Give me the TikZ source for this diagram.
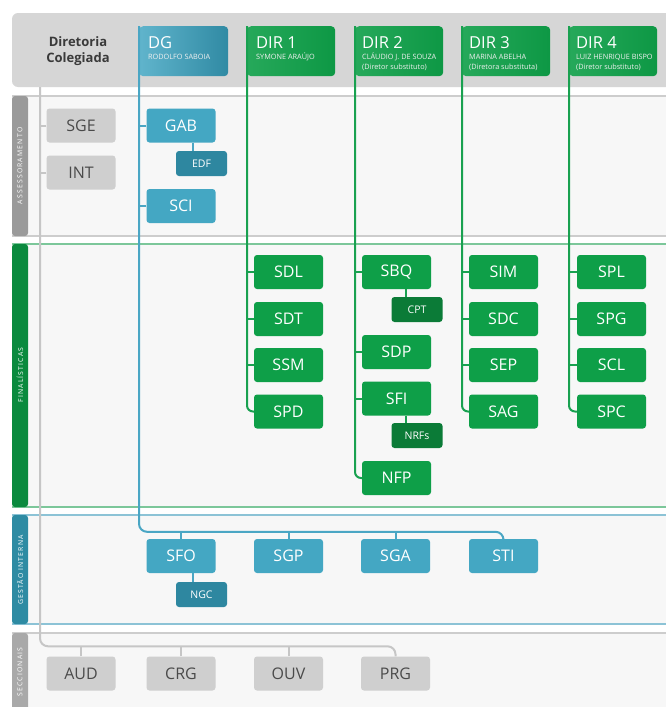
\documentclass[tikz,border=0pt]{standalone}
\usepackage{fontspec}
\setmainfont{Open Sans}
\newfontfamily\sidefont[LetterSpace=18]{Open Sans}
\usetikzlibrary{calc}
\definecolor{headergrey}{HTML}{D6D6D6}
\definecolor{secfill}{HTML}{F7F7F7}
\definecolor{boxgreen}{HTML}{0E9F48}
\definecolor{darkgreen}{HTML}{0B7B37}
\definecolor{boxblue}{HTML}{44A7C3}
\definecolor{darkblue}{HTML}{2E87A0}
\definecolor{boxgrey}{HTML}{CFCFCF}
\definecolor{textgrey}{HTML}{4A4A4A}
\definecolor{greenline}{HTML}{19A150}
\definecolor{blueline}{HTML}{4AA6C4}
\definecolor{greyline}{HTML}{C6C6C6}
\definecolor{secgreenline}{HTML}{7CC79A}
\definecolor{secblueline}{HTML}{8CC3D6}
\definecolor{secgreyline}{HTML}{CDCDCD}
\definecolor{sidegrey}{HTML}{9A9A9A}
\definecolor{sidegreen}{HTML}{0A8A3E}
\definecolor{sideblue}{HTML}{2E8BA3}
\definecolor{hdrtext}{HTML}{3A3A3A}
\tikzset{
  ubox/.style={rounded corners=3pt, minimum width=69pt, minimum height=34pt, inner sep=0pt,
    text=white, font=\fontsize{16}{16}\selectfont},
  gbox/.style={ubox, fill=boxgreen},
  bbox/.style={ubox, fill=boxblue},
  greybox/.style={ubox, fill=boxgrey, text=textgrey},
  sbox/.style={rounded corners=3pt, minimum width=51pt, minimum height=25pt, inner sep=0pt,
    text=white, font=\fontsize{10.5}{10.5}\selectfont},
  sgbox/.style={sbox, fill=darkgreen},
  sbbox/.style={sbox, fill=darkblue},
  flagbox/.style={anchor=north west, minimum height=50pt, inner sep=0pt, rounded corners=4pt},
  dgflag/.style={flagbox, minimum width=89pt, left color=boxblue!85!white, right color=darkblue!90!boxblue},
  dirflag/.style={flagbox, minimum width=88pt, left color=boxgreen!90!white, right color=boxgreen!80!darkgreen},
  hdrtitle/.style={anchor=base west, inner sep=0pt, text=white, font=\fontsize{16.5}{16.5}\selectfont},
  hdrsub/.style={anchor=base west, inner sep=0pt, text=white!94!black, font=\fontsize{7.3}{7.3}\selectfont},
  gline/.style={draw=greenline, line width=2pt},
  bline/.style={draw=blueline, line width=2pt},
  grline/.style={draw=greyline, line width=2pt},
  sidetext/.style={rotate=90, text=white, inner sep=0pt, font=\sidefont\fontsize{6.8}{6.8}\selectfont},
}
\begin{document}
\begin{tikzpicture}[x=1pt,y=-1pt]
\useasboundingbox (0,0) rectangle (665,707);
\fill[white] (0,0) rectangle (665,707);

% header band
\fill[headergrey, rounded corners=6pt] (12,13) rectangle (690,87);
\node[align=center, text=hdrtext, font=\bfseries\fontsize{13}{16}\selectfont] (DC) at (78,51) {Diretoria\\Colegiada};
\coordinate (hdrbottom) at (40,87);

% sections
\fill[secfill] (12,96) rectangle (690,236);
\draw[secgreyline, line width=1.5pt] (12,96) -- (690,96) (12,236) -- (690,236);
\fill[sidegrey, rounded corners=3pt] (12,96) rectangle (28,236);
\node[sidetext] at (20,166) {ASSESSORAMENTO};

\fill[secfill] (12,244) rectangle (690,507);
\draw[secgreenline, line width=1.5pt] (12,244) -- (690,244) (12,507) -- (690,507);
\fill[sidegreen, rounded corners=3pt] (12,244) rectangle (28,507);
\node[sidetext] at (20,375) {FINALÍSTICAS};

\fill[secfill] (12,515) rectangle (690,624);
\draw[secblueline, line width=1.5pt] (12,515) -- (690,515) (12,624) -- (690,624);
\fill[sideblue, rounded corners=3pt] (12,515) rectangle (28,624);
\node[sidetext] at (20,570) {GESTÃO INTERNA};

\fill[secfill] (12,633) rectangle (690,720);
\draw[secgreyline, line width=1.5pt] (12,633) -- (690,633);
\fill[sidegrey!85!white, rounded corners=3pt] (12,633) rectangle (28,720);
\node[sidetext] at (20,672) {SECCIONAIS};

% header flags
\node[dgflag] (DG) at (139,26) {};
\node[dirflag] (DIR1) at (247,26) {};
\node[dirflag] (DIR2) at (355,26) {};
\node[dirflag] (DIR3) at (462,26) {};
\node[dirflag] (DIR4) at (569,26) {};

\node[hdrtitle] at ($(DG.north west)+(9,22)$) {DG};
\node[hdrsub] at ($(DG.north west)+(9,33.5)$) {RODOLFO SABOIA};
\node[hdrtitle] at ($(DIR1.north west)+(9,22)$) {DIR 1};
\node[hdrsub] at ($(DIR1.north west)+(9,33.5)$) {SYMONE ARAÚJO};
\node[hdrtitle] at ($(DIR2.north west)+(7,22)$) {DIR 2};
\node[hdrsub] at ($(DIR2.north west)+(7,33.5)$) {CLÁUDIO J. DE SOUZA};
\node[hdrsub] at ($(DIR2.north west)+(7,43.5)$) {(Diretor substituto)};
\node[hdrtitle] at ($(DIR3.north west)+(7,22)$) {DIR 3};
\node[hdrsub] at ($(DIR3.north west)+(7,33.5)$) {MARINA ABELHA};
\node[hdrsub] at ($(DIR3.north west)+(7,43.5)$) {(Diretora substituta)};
\node[hdrtitle] at ($(DIR4.north west)+(7,22)$) {DIR 4};
\node[hdrsub] at ($(DIR4.north west)+(7,33.5)$) {LUIZ HENRIQUE BISPO};
\node[hdrsub] at ($(DIR4.north west)+(7,43.5)$) {(Diretor substituto)};

% boxes
\node[greybox] (SGE) at (81,125.5) {SGE};
\node[greybox] (INT) at (81,172.5) {INT};
\node[bbox] (GAB) at (181,125.5) {GAB};
\node[sbbox] (EDF) at (201.5,163.5) {EDF};
\node[bbox] (SCI) at (181,206) {SCI};

\node[gbox] (SDL) at (288.5,272) {SDL};
\node[gbox] (SDT) at (288.5,319) {SDT};
\node[gbox] (SSM) at (288.5,365) {SSM};
\node[gbox] (SPD) at (288.5,411.5) {SPD};

\node[gbox] (SBQ) at (396.5,272) {SBQ};
\node[sgbox] (CPT) at (417,309.5) {CPT};
\node[gbox] (SDP) at (396.5,352) {SDP};
\node[gbox] (SFI) at (396.5,398.5) {SFI};
\node[sgbox] (NRFs) at (417,435.5) {NRFs};
\node[gbox] (NFP) at (396.5,478) {NFP};

\node[gbox] (SIM) at (503.5,272) {SIM};
\node[gbox] (SDC) at (503.5,319) {SDC};
\node[gbox] (SEP) at (503.5,365) {SEP};
\node[gbox] (SAG) at (503.5,411.5) {SAG};

\node[gbox] (SPL) at (611.5,272) {SPL};
\node[gbox] (SPG) at (611.5,319) {SPG};
\node[gbox] (SCL) at (611.5,365) {SCL};
\node[gbox] (SPC) at (611.5,411.5) {SPC};

\node[bbox] (SFO) at (181,556) {SFO};
\node[sbbox] (NGC) at (201.5,594.5) {NGC};
\node[bbox] (SGP) at (288.5,556) {SGP};
\node[bbox] (SGA) at (395.5,556) {SGA};
\node[bbox] (STI) at (503.5,556) {STI};

\node[greybox] (AUD) at (81,673.5) {AUD};
\node[greybox] (CRG) at (181,673.5) {CRG};
\node[greybox] (OUV) at (288.5,673.5) {OUV};
\node[greybox] (PRG) at (395.5,673.5) {PRG};

% connectors: grey (Diretoria Colegiada)
\coordinate (secbus) at ($(PRG.north)+(0,-10)$);
\draw[grline, rounded corners=8pt] (hdrbottom) |- (secbus) -- (PRG.north);
\foreach \b in {SGE,INT} \draw[grline] (\b.west) -- (\b.west -| hdrbottom);
\foreach \b in {AUD,CRG,OUV} \draw[grline] (\b.north) -- (\b.north |- secbus);

% DG (blue)
\coordinate (busend) at ($(STI.north)+(0,-7)$);
\draw[bline, rounded corners=8pt] (DG.north west) |- (busend) -- (STI.north);
\foreach \b in {GAB,SCI} \draw[bline] (\b.west) -- (\b.west -| DG.west);
\foreach \b in {SFO,SGP,SGA} \draw[bline] (\b.north) -- (\b.north |- busend);
\draw[bline] ([xshift=12pt]GAB.south) -- ([xshift=12pt]GAB.south |- EDF.north);
\draw[bline] ([xshift=12pt]SFO.south) -- ([xshift=12pt]SFO.south |- NGC.north);

% DIR 1
\draw[gline, rounded corners=6pt] (DIR1.north west) |- (SPD.west);
\foreach \b in {SDL,SDT,SSM} \draw[gline] (\b.west) -- (\b.west -| DIR1.west);
% DIR 2
\draw[gline, rounded corners=6pt] (DIR2.north west) |- (NFP.west);
\foreach \b in {SBQ,SDP,SFI} \draw[gline] (\b.west) -- (\b.west -| DIR2.west);
\draw[gline] ([xshift=9pt]SBQ.south) -- ([xshift=9pt]SBQ.south |- CPT.north);
\draw[gline] ([xshift=9pt]SFI.south) -- ([xshift=9pt]SFI.south |- NRFs.north);
% DIR 3
\draw[gline, rounded corners=6pt] (DIR3.north west) |- (SAG.west);
\foreach \b in {SIM,SDC,SEP} \draw[gline] (\b.west) -- (\b.west -| DIR3.west);
% DIR 4
\draw[gline, rounded corners=6pt] (DIR4.north west) |- (SPC.west);
\foreach \b in {SPL,SPG,SCL} \draw[gline] (\b.west) -- (\b.west -| DIR4.west);
\end{tikzpicture}
\end{document}
